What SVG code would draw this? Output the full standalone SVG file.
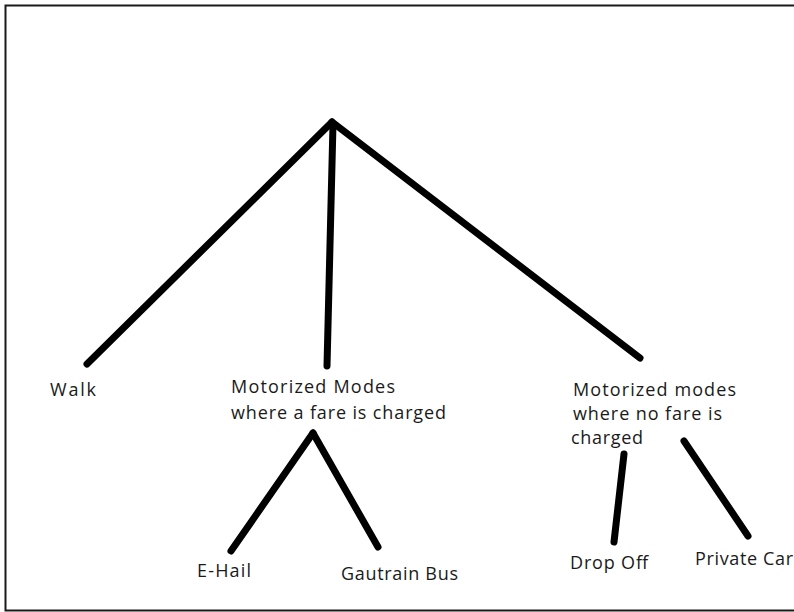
<svg xmlns="http://www.w3.org/2000/svg" width="794" height="612" viewBox="0 0 794 612">
  <style>
    .frame { fill: none; stroke: #1a1a1a; stroke-width: 2; }
    .edge { fill: none; stroke: #000; stroke-width: 7; stroke-linecap: round; stroke-linejoin: round; }
    .label { font-family: "Open Sans", "Noto Sans", "Liberation Sans", sans-serif; font-size: 18px; fill: #1a1a1a; }
  </style>
  <rect width="794" height="612" fill="#fff"/>
  <!-- open frame: top, left and bottom sides -->
  <path class="frame" d="M794,5.5 H5.5 V610.5 H794"/>

  <g id="connectors">
    <line class="edge" x1="332" y1="122" x2="87" y2="364"/>
    <line class="edge" x1="333" y1="124" x2="327" y2="366"/>
    <line class="edge" x1="332" y1="122" x2="640" y2="358"/>
    <line class="edge" x1="313" y1="433" x2="231" y2="551"/>
    <line class="edge" x1="313" y1="433" x2="378" y2="547"/>
    <line class="edge" x1="624" y1="454" x2="614" y2="542"/>
    <line class="edge" x1="684" y1="441" x2="748" y2="536"/>
  </g>

  <g id="walk"><text class="label" x="50" y="396" textLength="46" lengthAdjust="spacing">Walk</text></g>
  <g id="fare-charged">
    <text class="label" x="231" y="393" textLength="164" lengthAdjust="spacing">Motorized Modes</text>
    <text class="label" x="231" y="419" textLength="215" lengthAdjust="spacing">where a fare is charged</text>
  </g>
  <g id="no-fare">
    <text class="label" x="573" y="396" textLength="163" lengthAdjust="spacing">Motorized modes</text>
    <text class="label" x="573" y="420" textLength="149" lengthAdjust="spacing">where no fare is</text>
    <text class="label" x="571" y="444" textLength="72" lengthAdjust="spacing">charged</text>
  </g>
  <g id="e-hail"><text class="label" x="197" y="577" textLength="54" lengthAdjust="spacing">E-Hail</text></g>
  <g id="gautrain-bus"><text class="label" x="341" y="580" textLength="117" lengthAdjust="spacing">Gautrain Bus</text></g>
  <g id="drop-off"><text class="label" x="570" y="569" textLength="78" lengthAdjust="spacing">Drop Off</text></g>
  <g id="private-car"><text class="label" x="695" y="565" textLength="98" lengthAdjust="spacing">Private Car</text></g>
</svg>
